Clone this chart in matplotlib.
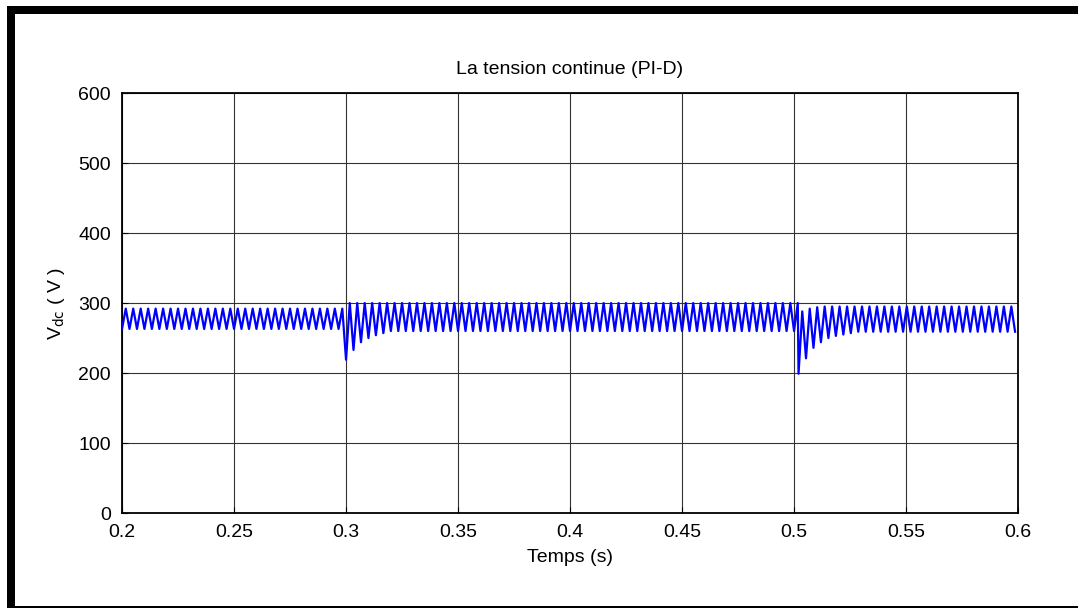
import numpy as np
import matplotlib
matplotlib.use("Agg")
import matplotlib.pyplot as plt
from matplotlib.patches import Rectangle

# ripple of the DC bus (6-pulse rectifier, 300 Hz)
ripple_period = 1 / 300.0
# segments: start, end (s)
seg_start = [0.2, 0.3, 0.502]
seg_end = [0.3, 0.502, 0.6]
# steady peak / trough levels read per segment (V)
seg_peak = [292, 300, 295]
seg_trough = [263, 260, 259]
# transient troughs read cycle by cycle after each disturbance (V)
seg_dips = [[], [219, 233, 244, 250, 254, 257], [199, 221, 236, 244, 250, 253, 255, 257]]
seg_first_peaks = [[], [300, 300], [288, 292, 294]]

xticks = [0.2, 0.25, 0.3, 0.35, 0.4, 0.45, 0.5, 0.55, 0.6]
xtick_labels = ["0.2", "0.25", "0.3", "0.35", "0.4", "0.45", "0.5", "0.55", "0.6"]
yticks = [0, 100, 200, 300, 400, 500, 600]

plt.rcParams['font.family'] = ['Liberation Sans', 'DejaVu Sans']

t_all, v_all = [], []
for k in range(len(seg_start)):
    n_half = int(round((seg_end[k] - seg_start[k]) / (ripple_period / 2)))
    dips = seg_dips[k]
    pk = seg_first_peaks[k]
    for i in range(n_half + 1):
        t = seg_start[k] + i * ripple_period / 2
        if t > seg_end[k]:
            break
        j = i // 2
        if i % 2 == 0:
            v = dips[j] if j < len(dips) else seg_trough[k]
        else:
            v = pk[j] if j < len(pk) else seg_peak[k]
        t_all.append(t)
        v_all.append(v)

fig = plt.figure(figsize=(10.78, 6.08), dpi=100)
ax = fig.add_axes([0.1132, 0.1562, 0.8312, 0.6908])
ax.plot(t_all, v_all, color=(0, 0, 1), lw=1.6, zorder=3)

ax.set_xlim(0.2, 0.6)
ax.set_ylim(0, 600)
ax.set_xticks(xticks)
ax.set_xticklabels(xtick_labels)
ax.set_yticks(yticks)
ax.grid(True, color='#333333', lw=0.8, ls='-')
ax.tick_params(direction='in', length=4, labelsize=14, pad=8, color='black')
for s in ax.spines.values():
    s.set_linewidth(1.3)

ax.set_title("La tension continue (PI-D)", fontsize=14, pad=14)
ax.set_xlabel("Temps (s)", fontsize=14, labelpad=6)
ax.set_ylabel(r"V$_{\rm dc}$ ( V )", fontsize=14, labelpad=8)

# black frame around the picture
fig.add_artist(Rectangle((7 / 1078, 0), 8 / 1078, 1 - 6 / 608, transform=fig.transFigure,
                         color='black', lw=0))
fig.add_artist(Rectangle((7 / 1078, 1 - 14 / 608), 1, 8 / 608, transform=fig.transFigure,
                         color='black', lw=0))
fig.add_artist(Rectangle((7 / 1078, 0), 1, 2.5 / 608, transform=fig.transFigure,
                         color='black', lw=0))

fig.savefig("out.png", dpi=100)
